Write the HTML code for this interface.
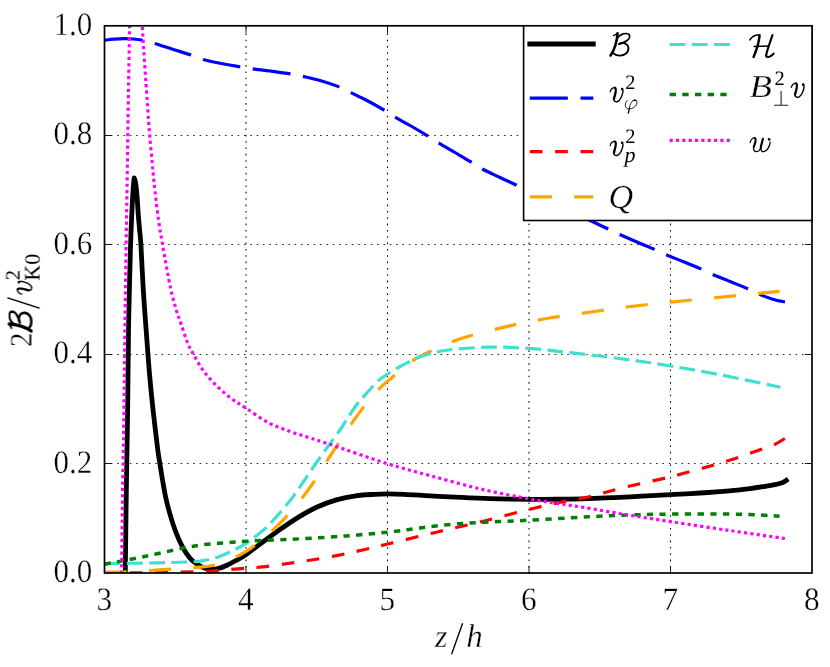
<!DOCTYPE html>
<html><head><meta charset="utf-8"><title>plot</title>
<style>
html,body{margin:0;padding:0;background:#fff;}
svg{display:block;}
text{font-family:"Liberation Serif",serif;fill:#000;text-rendering:geometricPrecision;}
.it{font-style:italic;}
</style></head><body>
<svg width="830" height="667" viewBox="0 0 830 667">
<rect x="0" y="0" width="830" height="667" fill="#fff"/>
<defs><filter id="idf" filterUnits="userSpaceOnUse" x="0" y="0" width="830" height="667"><feOffset dx="0" dy="0"/></filter></defs>
<g filter="url(#idf)">
<defs><clipPath id="ax"><rect x="104.50" y="25.80" width="707.50" height="547.20"/></clipPath></defs>

<g stroke="#000" stroke-width="0.85" stroke-dasharray="1.585 4.755" fill="none">
<path stroke-width="1.05" d="M246.00,573.85 V25.80"/>
<path stroke-width="1.05" d="M387.50,573.85 V25.80"/>
<path stroke-width="1.05" d="M529.00,573.85 V25.80"/>
<path stroke-width="1.05" d="M670.50,573.85 V25.80"/>
<path d="M104.50,463.50 H812.00"/>
<path d="M104.50,354.50 H812.00"/>
<path d="M104.50,244.50 H812.00"/>
<path d="M104.50,135.50 H812.00"/>
</g>
<g clip-path="url(#ax)" fill="none">
<path d="M125.30,573.50 C125.47,559.92 125.92,518.92 126.30,492.00 C126.68,465.08 127.23,438.67 127.60,412.00 C127.97,385.33 128.20,352.33 128.50,332.00 C128.80,311.67 129.08,303.67 129.40,290.00 C129.72,276.33 130.08,260.83 130.40,250.00 C130.72,239.17 130.98,232.83 131.30,225.00 C131.62,217.17 131.97,209.33 132.30,203.00 C132.63,196.67 132.98,191.20 133.30,187.00 C133.62,182.80 134.05,179.33 134.20,177.80 C134.38,178.42 134.95,179.80 135.30,181.50 C135.65,183.20 136.00,185.42 136.30,188.00 C136.60,190.58 136.77,192.50 137.10,197.00 C137.43,201.50 137.88,209.50 138.30,215.00 C138.72,220.50 139.17,225.07 139.60,230.00 C140.03,234.93 140.28,234.60 140.90,244.60 C141.52,254.60 142.40,275.43 143.30,290.00 C144.20,304.57 145.25,317.83 146.30,332.00 C147.35,346.17 148.43,361.67 149.60,375.00 C150.77,388.33 151.93,399.50 153.30,412.00 C154.67,424.50 156.70,441.38 157.80,450.00 C158.90,458.62 159.17,459.02 159.90,463.70 C160.63,468.38 161.25,472.57 162.20,478.10 C163.15,483.63 164.23,490.65 165.60,496.90 C166.97,503.15 168.78,509.98 170.40,515.60 C172.02,521.22 173.55,525.90 175.30,530.60 C177.05,535.30 179.08,540.05 180.90,543.80 C182.72,547.55 184.32,550.30 186.20,553.10 C188.08,555.90 189.95,558.50 192.20,560.60 C194.45,562.70 197.57,564.43 199.70,565.70 C201.83,566.97 203.03,567.60 205.00,568.20 C206.97,568.80 209.17,569.28 211.50,569.30 C213.83,569.32 216.42,568.98 219.00,568.30 C221.58,567.62 224.17,566.50 227.00,565.20 C229.83,563.90 232.87,562.23 236.00,560.50 C239.13,558.77 241.92,557.45 245.80,554.80 C249.68,552.15 253.83,548.65 259.30,544.60 C264.77,540.55 272.18,535.00 278.60,530.50 C285.02,526.00 291.38,521.52 297.80,517.60 C304.22,513.68 310.67,509.95 317.10,507.00 C323.53,504.05 329.97,501.77 336.40,499.90 C342.83,498.03 349.28,496.73 355.70,495.80 C362.12,494.87 369.60,494.62 374.90,494.30 C380.20,493.98 382.65,493.90 387.50,493.90 C392.35,493.90 396.92,493.98 404.00,494.30 C411.08,494.62 421.47,495.33 430.00,495.80 C438.53,496.27 445.20,496.63 455.20,497.10 C465.20,497.57 477.68,498.22 490.00,498.60 C502.32,498.98 517.43,499.30 529.10,499.40 C540.77,499.50 550.18,499.33 560.00,499.20 C569.82,499.07 576.33,499.00 588.00,498.60 C599.67,498.20 616.25,497.45 630.00,496.80 C643.75,496.15 658.83,495.33 670.50,494.70 C682.17,494.07 690.18,493.65 700.00,493.00 C709.82,492.35 721.07,491.53 729.40,490.80 C737.73,490.07 744.03,489.35 750.00,488.60 C755.97,487.85 761.03,486.97 765.20,486.30 C769.37,485.63 772.45,485.10 775.00,484.60 C777.55,484.10 779.08,483.70 780.50,483.30 C781.92,482.90 782.55,482.68 783.50,482.20 C784.45,481.72 785.75,480.70 786.20,480.40" stroke="#000" stroke-width="4.8" stroke-linejoin="round" stroke-linecap="square"/>
<path d="M104.70,40.20 C106.25,40.03 110.80,39.47 114.00,39.20 C117.20,38.93 120.73,38.63 123.90,38.60 C127.07,38.57 129.95,38.73 133.00,39.00 C136.05,39.27 138.63,39.48 142.20,40.20 C145.77,40.92 149.43,41.83 154.40,43.30 C159.37,44.77 165.92,47.05 172.00,49.00 C178.08,50.95 185.82,53.28 190.90,55.00 C195.98,56.72 197.65,57.92 202.50,59.30 C207.35,60.68 213.73,62.05 220.00,63.30 C226.27,64.55 234.65,65.88 240.10,66.80 C245.55,67.72 247.72,68.10 252.70,68.80 C257.68,69.50 263.73,70.15 270.00,71.00 C276.27,71.85 284.83,73.00 290.30,73.90 C295.77,74.80 297.85,75.30 302.80,76.40 C307.75,77.50 313.95,78.75 320.00,80.50 C326.05,82.25 333.95,84.87 339.10,86.90 C344.25,88.93 346.25,90.43 350.90,92.70 C355.55,94.97 361.45,97.58 367.00,100.50 C372.55,103.42 379.53,107.42 384.20,110.20 C388.87,112.98 390.53,114.57 395.00,117.20 C399.47,119.83 405.57,122.88 411.00,126.00 C416.43,129.12 422.95,133.05 427.60,135.90 C432.25,138.75 434.33,140.33 438.90,143.10 C443.47,145.87 449.65,149.37 455.00,152.50 C460.35,155.63 466.45,159.15 471.00,161.90 C475.55,164.65 477.47,166.40 482.30,169.00 C487.13,171.60 494.28,174.80 500.00,177.50 C505.72,180.20 507.77,180.98 516.60,185.20 C525.43,189.42 540.73,196.92 553.00,202.80 C565.27,208.68 581.08,216.17 590.20,220.50 C599.32,224.83 602.82,226.48 607.70,228.80 C612.58,231.12 614.62,232.20 619.50,234.40 C624.38,236.60 631.15,239.50 637.00,242.00 C642.85,244.50 649.75,247.28 654.60,249.40 C659.45,251.52 661.37,252.68 666.10,254.70 C670.83,256.72 677.18,259.13 683.00,261.50 C688.82,263.87 696.07,266.73 701.00,268.90 C705.93,271.07 707.77,272.40 712.60,274.50 C717.43,276.60 724.13,279.12 730.00,281.50 C735.87,283.88 743.17,286.75 747.80,288.80 C752.43,290.85 753.77,292.12 757.80,293.80 C761.83,295.48 767.48,297.52 772.00,298.90 C776.52,300.28 782.75,301.57 784.90,302.10" stroke="#0000ff" stroke-width="3.17" stroke-dasharray="38.04 12.68"/>
<path d="M104.50,572.90 C113.75,572.85 142.97,572.87 160.00,572.60 C177.03,572.33 193.73,571.92 206.70,571.30 C219.67,570.68 228.47,569.63 237.80,568.90 C247.13,568.17 254.38,567.80 262.70,566.90 C271.02,566.00 280.37,564.52 287.70,563.50 C295.03,562.48 298.35,562.15 306.70,560.80 C315.05,559.45 328.47,557.20 337.80,555.40 C347.13,553.60 354.38,551.90 362.70,550.00 C371.02,548.10 375.42,546.97 387.70,544.00 C399.98,541.03 420.13,536.08 436.40,532.20 C452.67,528.32 469.02,524.70 485.30,520.70 C501.58,516.70 521.57,511.28 534.10,508.20 C546.63,505.12 551.52,504.07 560.50,502.20 C569.48,500.33 577.28,499.50 588.00,497.00 C598.72,494.50 611.05,490.57 624.80,487.20 C638.55,483.83 655.57,480.53 670.50,476.80 C685.43,473.07 702.82,468.13 714.40,464.80 C725.98,461.47 732.52,459.28 740.00,456.80 C747.48,454.32 753.63,451.90 759.30,449.90 C764.97,447.90 769.73,446.70 774.00,444.80 C778.27,442.90 783.08,439.55 784.90,438.50" stroke="#ff0000" stroke-width="3.17" stroke-dasharray="12.68 12.68"/>
<path d="M104.50,572.30 C108.75,572.18 120.85,572.02 130.00,571.60 C139.15,571.18 150.73,570.30 159.40,569.80 C168.07,569.30 175.23,569.03 182.00,568.60 C188.77,568.17 194.50,567.80 200.00,567.20 C205.50,566.60 210.00,566.28 215.00,565.00 C220.00,563.72 224.82,561.77 230.00,559.50 C235.18,557.23 240.77,554.73 246.10,551.40 C251.43,548.07 256.42,544.12 262.00,539.50 C267.58,534.88 274.60,528.62 279.60,523.70 C284.60,518.78 288.27,514.25 292.00,510.00 C295.73,505.75 298.33,502.92 302.00,498.20 C305.67,493.48 309.88,487.83 314.00,481.70 C318.12,475.57 322.70,467.65 326.70,461.40 C330.70,455.15 334.00,450.32 338.00,444.20 C342.00,438.08 346.48,430.80 350.70,424.70 C354.92,418.60 358.72,413.43 363.30,407.60 C367.88,401.77 373.08,395.02 378.20,389.70 C383.32,384.38 388.25,380.52 394.00,375.70 C399.75,370.88 406.63,364.87 412.70,360.80 C418.77,356.73 422.28,355.03 430.40,351.30 C438.52,347.57 448.93,342.47 461.40,338.40 C473.87,334.33 490.80,330.25 505.20,326.90 C519.60,323.55 533.17,320.82 547.80,318.30 C562.43,315.78 580.05,313.67 593.00,311.80 C605.95,309.93 612.57,308.72 625.50,307.10 C638.43,305.48 654.18,303.82 670.60,302.10 C687.02,300.38 705.83,298.60 724.00,296.80 C742.17,295.00 770.33,292.22 779.60,291.30" stroke="#ffa500" stroke-width="3.17" stroke-dasharray="22.19 22.19"/>
<path d="M104.70,563.50 C112.25,563.42 136.28,563.25 150.00,563.00 C163.72,562.75 178.67,562.32 187.00,562.00 C195.33,561.68 195.33,561.77 200.00,561.10 C204.67,560.43 210.00,559.52 215.00,558.00 C220.00,556.48 224.82,554.45 230.00,552.00 C235.18,549.55 241.77,545.97 246.10,543.30 C250.43,540.63 252.45,538.82 256.00,536.00 C259.55,533.18 263.23,530.48 267.40,526.40 C271.57,522.32 276.73,516.45 281.00,511.50 C285.27,506.55 289.17,501.78 293.00,496.70 C296.83,491.62 300.25,486.45 304.00,481.00 C307.75,475.55 311.33,470.00 315.50,464.00 C319.67,458.00 324.75,450.92 329.00,445.00 C333.25,439.08 337.67,433.35 341.00,428.50 C344.33,423.65 346.27,420.03 349.00,415.90 C351.73,411.77 355.15,406.70 357.40,403.70 C359.65,400.70 359.15,401.62 362.50,397.90 C365.85,394.18 373.30,385.38 377.50,381.40 C381.70,377.42 383.45,376.73 387.70,374.00 C391.95,371.27 397.22,368.00 403.00,365.00 C408.78,362.00 415.07,358.47 422.40,356.00 C429.73,353.53 436.12,351.67 447.00,350.20 C457.88,348.73 474.07,347.50 487.70,347.20 C501.33,346.90 515.02,347.48 528.80,348.40 C542.58,349.32 554.53,350.92 570.40,352.70 C586.27,354.48 607.30,356.88 624.00,359.10 C640.70,361.32 654.55,363.38 670.60,366.00 C686.65,368.62 702.00,371.25 720.30,374.80 C738.60,378.35 770.38,385.22 780.40,387.30" stroke="#40e0d0" stroke-width="3.17" stroke-dasharray="15.85 6.34"/>
<path d="M104.70,564.20 C111.33,562.92 131.57,559.15 144.50,556.50 C157.43,553.85 172.38,550.28 182.30,548.30 C192.22,546.32 196.88,545.52 204.00,544.60 C211.12,543.68 218.00,543.35 225.00,542.80 C232.00,542.25 237.67,541.77 246.00,541.30 C254.33,540.83 265.67,540.43 275.00,540.00 C284.33,539.57 290.33,539.37 302.00,538.70 C313.67,538.03 330.77,537.08 345.00,536.00 C359.23,534.92 374.90,533.53 387.40,532.20 C399.90,530.87 408.70,529.37 420.00,528.00 C431.30,526.63 443.53,525.00 455.20,524.00 C466.87,523.00 477.68,522.63 490.00,522.00 C502.32,521.37 512.77,521.07 529.10,520.20 C545.43,519.33 571.18,517.67 588.00,516.80 C604.82,515.93 616.25,515.45 630.00,515.00 C643.75,514.55 653.93,514.25 670.50,514.10 C687.07,513.95 714.48,513.95 729.40,514.10 C744.32,514.25 751.63,514.65 760.00,515.00 C768.37,515.35 776.33,516.00 779.60,516.20" stroke="#008000" stroke-width="3.5" stroke-dasharray="6.34 6.34"/>
<path d="M121.60,573.50 C121.77,559.92 122.22,518.92 122.60,492.00 C122.98,465.08 123.52,438.67 123.90,412.00 C124.28,385.33 124.55,358.67 124.90,332.00 C125.25,305.33 125.62,277.83 126.00,252.00 C126.38,226.17 126.82,202.00 127.20,177.00 C127.58,152.00 127.90,127.17 128.30,102.00 C128.70,76.83 129.23,48.00 129.60,26.00 C129.97,4.00 130.35,-20.67 130.50,-30.00" stroke="#ff00ff" stroke-width="3.17" stroke-dasharray="3.17 3.17"/>
<path d="M141.50,-30.00 C141.65,-20.67 141.45,4.23 142.40,26.00 C143.35,47.77 145.98,82.35 147.20,100.60 C148.42,118.85 148.75,123.93 149.70,135.50 C150.65,147.07 152.15,161.92 152.90,170.00 C153.65,178.08 153.27,175.67 154.20,184.00 C155.13,192.33 157.10,209.90 158.50,220.00 C159.90,230.10 161.72,239.27 162.60,244.60 C163.48,249.93 162.48,244.80 163.80,252.00 C165.12,259.20 168.47,278.30 170.50,287.80 C172.53,297.30 174.25,302.98 176.00,309.00 C177.75,315.02 179.03,318.17 181.00,323.90 C182.97,329.63 185.70,338.30 187.80,343.40 C189.90,348.50 191.00,349.95 193.60,354.50 C196.20,359.05 199.65,365.57 203.40,370.70 C207.15,375.83 211.55,380.75 216.10,385.30 C220.65,389.85 225.73,394.20 230.70,398.00 C235.67,401.80 239.73,404.05 245.90,408.10 C252.07,412.15 260.42,418.43 267.70,422.30 C274.98,426.17 282.55,428.70 289.60,431.30 C296.65,433.90 303.18,435.70 310.00,437.90 C316.82,440.10 317.60,440.20 330.50,444.50 C343.40,448.80 370.80,458.52 387.40,463.70 C404.00,468.88 414.62,471.40 430.10,475.60 C445.58,479.80 463.80,485.02 480.30,488.90 C496.80,492.78 516.58,496.52 529.10,498.90 C541.62,501.28 546.25,501.77 555.40,503.20 C564.55,504.63 572.40,505.62 584.00,507.50 C595.60,509.38 610.58,512.15 625.00,514.50 C639.42,516.85 653.10,518.93 670.50,521.60 C687.90,524.27 710.27,527.67 729.40,530.50 C748.53,533.33 775.98,537.25 785.30,538.60" stroke="#ff00ff" stroke-width="3.17" stroke-dasharray="3.17 3.17"/>
</g>
<g stroke="#000" stroke-width="0.9" fill="none">
<path d="M246.00,573.00 v-7 M246.00,25.80 v7"/>
<path d="M387.50,573.00 v-7 M387.50,25.80 v7"/>
<path d="M529.00,573.00 v-7 M529.00,25.80 v7"/>
<path d="M670.50,573.00 v-7 M670.50,25.80 v7"/>
<path d="M104.50,463.50 h7 M812.00,463.50 h-7"/>
<path d="M104.50,354.50 h7 M812.00,354.50 h-7"/>
<path d="M104.50,244.50 h7 M812.00,244.50 h-7"/>
<path d="M104.50,135.50 h7 M812.00,135.50 h-7"/>
</g>
<rect x="104.50" y="25.80" width="707.50" height="547.20" fill="none" stroke="#000" stroke-width="1.7"/>
<text transform="translate(104.20,609.80) scale(0.960,1)" font-size="32.60" text-anchor="middle" stroke="#fff" stroke-width="0.35">3</text>
<text transform="translate(245.70,609.80) scale(0.960,1)" font-size="32.60" text-anchor="middle" stroke="#fff" stroke-width="0.35">4</text>
<text transform="translate(387.20,609.80) scale(0.960,1)" font-size="32.60" text-anchor="middle" stroke="#fff" stroke-width="0.35">5</text>
<text transform="translate(528.70,609.80) scale(0.960,1)" font-size="32.60" text-anchor="middle" stroke="#fff" stroke-width="0.35">6</text>
<text transform="translate(670.20,609.80) scale(0.960,1)" font-size="32.60" text-anchor="middle" stroke="#fff" stroke-width="0.35">7</text>
<text transform="translate(811.70,609.80) scale(0.960,1)" font-size="32.60" text-anchor="middle" stroke="#fff" stroke-width="0.35">8</text>
<text x="92.3" y="582.10" font-size="32.6" text-anchor="end" textLength="38.8" lengthAdjust="spacingAndGlyphs" stroke="#fff" stroke-width="0.35">0.0</text>
<text x="92.3" y="472.66" font-size="32.6" text-anchor="end" textLength="38.8" lengthAdjust="spacingAndGlyphs" stroke="#fff" stroke-width="0.35">0.2</text>
<text x="92.3" y="363.22" font-size="32.6" text-anchor="end" textLength="38.8" lengthAdjust="spacingAndGlyphs" stroke="#fff" stroke-width="0.35">0.4</text>
<text x="92.3" y="253.78" font-size="32.6" text-anchor="end" textLength="38.8" lengthAdjust="spacingAndGlyphs" stroke="#fff" stroke-width="0.35">0.6</text>
<text x="92.3" y="144.34" font-size="32.6" text-anchor="end" textLength="38.8" lengthAdjust="spacingAndGlyphs" stroke="#fff" stroke-width="0.35">0.8</text>
<text x="92.3" y="34.90" font-size="32.6" text-anchor="end" textLength="38.8" lengthAdjust="spacingAndGlyphs" stroke="#fff" stroke-width="0.35">1.0</text>
<text transform="translate(435.00,647.20) scale(1.000,1)" font-size="32.00" text-anchor="start" class="it" stroke="#fff" stroke-width="0.35">z</text>
<path d="M451.6,654.3 L462.6,623.2" stroke="#000" stroke-width="1.35" fill="none"/>
<text transform="translate(466.30,647.10) scale(1.000,1)" font-size="33.00" text-anchor="start" class="it" stroke="#fff" stroke-width="0.35">h</text>
<g transform="translate(31.6,346) rotate(-90)">
<text transform="translate(-1.00,0.00) scale(0.920,1)" font-size="31.50" text-anchor="start" stroke="#fff" stroke-width="0.35">2</text>
<g transform="translate(14.0,0) scale(1.02,1.0)"><g fill="none" stroke="#000" stroke-linecap="round" stroke-linejoin="round" transform="scale(0.05096) translate(-195,-545)"><path d="M262,150 C295,140 322,122 343,104" stroke-width="26"/><path d="M343,104 C335,210 295,410 205,540" stroke-width="50"/><path d="M338,200 C380,130 470,98 540,112 C600,128 588,202 538,240 C498,270 430,296 372,316" stroke-width="32"/><path d="M372,316 C402,290 472,282 522,322 C576,368 566,452 510,500 C450,550 332,560 272,502" stroke-width="38"/></g></g>
<g transform="translate(14.8,0) scale(1.02,1.0)"><g fill="none" stroke="#000" stroke-linecap="round" stroke-linejoin="round" transform="scale(0.05096) translate(-195,-545)"><path d="M262,150 C295,140 322,122 343,104" stroke-width="26"/><path d="M343,104 C335,210 295,410 205,540" stroke-width="50"/><path d="M338,200 C380,130 470,98 540,112 C600,128 588,202 538,240 C498,270 430,296 372,316" stroke-width="32"/><path d="M372,316 C402,290 472,282 522,322 C576,368 566,452 510,500 C450,550 332,560 272,502" stroke-width="38"/></g></g>
<path d="M37.8,8 L48.2,-24.2" stroke="#000" stroke-width="1.35" fill="none"/>
<g transform="translate(51.5,0)"><g fill="none" stroke="#000" stroke-linecap="round" stroke-linejoin="round" transform="scale(0.078) translate(-100,-430)"><path d="M104,303 C113,268 142,244 166,252" stroke-width="16"/><path d="M166,252 C196,266 166,340 153,393" stroke-width="30"/><path d="M153,393 C147,425 175,435 201,427 C236,416 266,340 270,286" stroke-width="18"/><circle cx="258" cy="268" r="17" fill="#000" stroke="none"/></g></g>
<text transform="translate(65.80,-11.80) scale(1.000,1)" font-size="20.50" text-anchor="start">2</text>
<text transform="translate(65.30,8.00) scale(1.000,1)" font-size="22.00" text-anchor="start">K0</text>
</g>
<rect x="523.60" y="25.80" width="288.40" height="194.70" fill="#fff" stroke="#000" stroke-width="1.6"/>
<path d="M529.80,44 H593.30" stroke="#000" stroke-width="4.8" stroke-linecap="square"/>
<path d="M529.80,98.1 H593.30" stroke="#0000ff" stroke-width="3.17" stroke-dasharray="38.04 12.68"/>
<path d="M529.80,151.6 H593.30" stroke="#ff0000" stroke-width="3.17" stroke-dasharray="12.68 12.68"/>
<path d="M529.80,196.8 H593.30" stroke="#ffa500" stroke-width="3.17" stroke-dasharray="22.19 22.19"/>
<path d="M669.60,44.5 H733.10" stroke="#40e0d0" stroke-width="3.17" stroke-dasharray="15.85 6.34"/>
<path d="M669.60,94.6 H733.10" stroke="#008000" stroke-width="3.5" stroke-dasharray="6.34 6.34"/>
<path d="M669.60,140.3 H733.10" stroke="#ff00ff" stroke-width="3.17" stroke-dasharray="3.17 3.17"/>
<g transform="translate(610.0,55.8)"><g fill="none" stroke="#000" stroke-linecap="round" stroke-linejoin="round" transform="scale(0.05096) translate(-195,-545)"><path d="M262,150 C295,140 322,122 343,104" stroke-width="26"/><path d="M343,104 C335,210 295,410 205,540" stroke-width="50"/><path d="M338,200 C380,130 470,98 540,112 C600,128 588,202 538,240 C498,270 430,296 372,316" stroke-width="32"/><path d="M372,316 C402,290 472,282 522,322 C576,368 566,452 510,500 C450,550 332,560 272,502" stroke-width="38"/></g></g>
<g transform="translate(609.8,101.7)"><g fill="none" stroke="#000" stroke-linecap="round" stroke-linejoin="round" transform="scale(0.078) translate(-100,-430)"><path d="M104,303 C113,268 142,244 166,252" stroke-width="16"/><path d="M166,252 C196,266 166,340 153,393" stroke-width="30"/><path d="M153,393 C147,425 175,435 201,427 C236,416 266,340 270,286" stroke-width="18"/><circle cx="258" cy="268" r="17" fill="#000" stroke="none"/></g></g>
<text transform="translate(625.30,89.40) scale(1.000,1)" font-size="20.50" text-anchor="start">2</text>
<g transform="translate(620,95) scale(0.03448)" fill="none" stroke="#000" stroke-linecap="round" stroke-linejoin="round"><path d="M212,155 C165,195 135,290 165,350 C185,385 230,400 270,402 C360,400 450,345 485,265 C510,200 480,148 420,150 C360,155 310,230 290,300 C280,340 270,380 264,410" stroke-width="25"/><path d="M266,400 C258,450 246,500 236,543" stroke-width="38" stroke-linecap="butt"/><path d="M385,160 C410,145 450,148 470,165" stroke-width="34"/></g>
<g transform="translate(609.8,155.5)"><g fill="none" stroke="#000" stroke-linecap="round" stroke-linejoin="round" transform="scale(0.078) translate(-100,-430)"><path d="M104,303 C113,268 142,244 166,252" stroke-width="16"/><path d="M166,252 C196,266 166,340 153,393" stroke-width="30"/><path d="M153,393 C147,425 175,435 201,427 C236,416 266,340 270,286" stroke-width="18"/><circle cx="258" cy="268" r="17" fill="#000" stroke="none"/></g></g>
<text transform="translate(625.30,143.30) scale(1.000,1)" font-size="20.50" text-anchor="start">2</text>
<text transform="translate(624.60,162.30) scale(1.000,1)" font-size="22.00" text-anchor="start" class="it">p</text>
<text transform="translate(608.60,208.00) scale(1.020,1)" font-size="33.50" text-anchor="start" class="it" stroke="#fff" stroke-width="0.35">Q</text>
<g transform="translate(749.4,57.2)"><g fill="none" stroke="#000" stroke-linecap="round" stroke-linejoin="round" transform="scale(0.05096) translate(-150,-562)"><path d="M158,224 C200,160 282,122 350,130" stroke-width="30"/><path d="M350,130 C340,252 292,420 232,556" stroke-width="48"/><path d="M242,350 L530,341" stroke-width="30"/><path d="M603,128 C560,252 500,420 478,520 C470,560 520,566 560,545 C590,526 610,510 626,492" stroke-width="42"/></g></g>
<text transform="translate(749.60,96.70) scale(1.150,1)" font-size="32.00" text-anchor="start" class="it" stroke="#fff" stroke-width="0.35">B</text>
<text transform="translate(774.60,85.00) scale(1.000,1)" font-size="20.50" text-anchor="start">2</text>
<path d="M774.1,105.2 H788.1 M781.1,105.2 V91" stroke="#222" stroke-width="1.1" fill="none"/>
<g transform="translate(790.9,97.3)"><g fill="none" stroke="#000" stroke-linecap="round" stroke-linejoin="round" transform="scale(0.078) translate(-100,-430)"><path d="M104,303 C113,268 142,244 166,252" stroke-width="16"/><path d="M166,252 C196,266 166,340 153,393" stroke-width="30"/><path d="M153,393 C147,425 175,435 201,427 C236,416 266,340 270,286" stroke-width="18"/><circle cx="258" cy="268" r="17" fill="#000" stroke="none"/></g></g>
<g transform="translate(749.8,152.0)"><g fill="none" stroke="#000" stroke-linecap="round" stroke-linejoin="round" transform="scale(0.048) translate(-120,-495)"><path d="M127,300 C140,235 192,190 226,206" stroke-width="24"/><path d="M226,206 C268,226 232,300 203,388" stroke-width="46"/><path d="M203,388 C182,460 222,490 262,488 C312,485 342,440 357,388" stroke-width="28"/><path d="M393,220 C380,285 350,360 347,418" stroke-width="44"/><path d="M347,418 C345,470 380,492 416,488 C482,482 532,380 545,292" stroke-width="28"/><circle cx="522" cy="232" r="27" fill="#000" stroke="none"/></g></g>
</g></svg></body></html>
